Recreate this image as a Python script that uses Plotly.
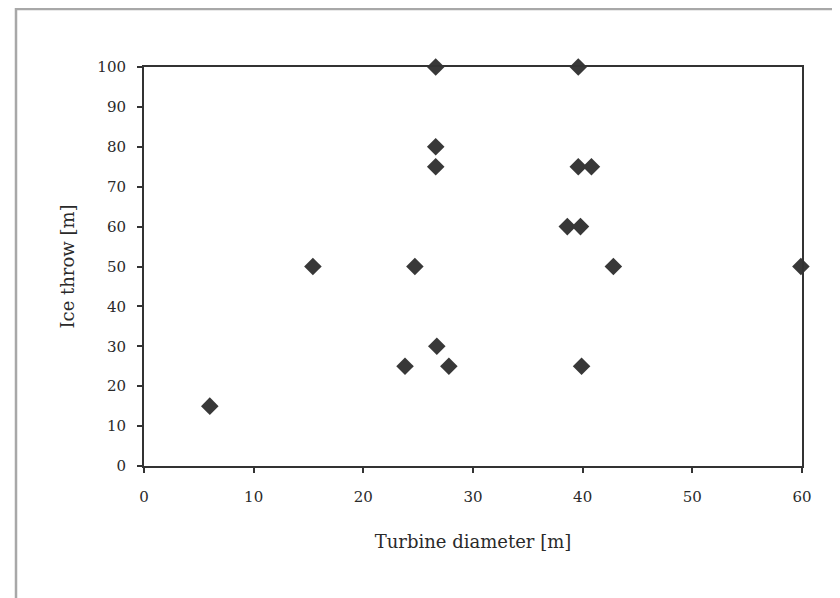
import plotly.graph_objects as go

diameter = [6, 15.4, 24.7, 23.8, 26.6, 39.6, 26.6, 26.6, 39.6, 40.8, 38.6, 39.8, 42.8, 59.9, 26.7, 27.8, 39.9]
ice_throw = [15, 50, 50, 25, 100, 100, 80, 75, 75, 75, 60, 60, 50, 50, 30, 25, 25]

x_ticks = [0, 10, 20, 30, 40, 50, 60]
y_ticks = [0, 10, 20, 30, 40, 50, 60, 70, 80, 90, 100]

OFF = 8  # page body margin
W, H = 840, 598
pw, ph = 658, 399
L, T = 144 - OFF, 67 - OFF
R, B = W - L - pw, H - T - ph

fig = go.Figure()
fig.add_trace(go.Scatter(
    x=diameter, y=ice_throw, mode="markers",
    marker=dict(symbol="diamond", size=13.5, color="#383838", line=dict(width=0)),
    cliponaxis=False, showlegend=False,
))

font = dict(family="DejaVu Serif, serif", size=15, color="#2a2a2a")
axis_common = dict(
    showgrid=False, zeroline=False, showline=True, linecolor="#333333", linewidth=2,
    mirror=True, ticks="outside", ticklen=5, tickwidth=1.5, tickcolor="#333333",
    tickfont=font,
)
overlay_common = dict(
    showgrid=False, zeroline=False, showline=False, showticklabels=False,
    ticks="inside", ticklen=4, tickwidth=1.5, tickcolor="#333333",
)

fig.update_layout(
    width=W, height=H,
    margin=dict(l=L, r=R, t=T, b=B, pad=0),
    paper_bgcolor="white", plot_bgcolor="white",
    font=font,
    xaxis=dict(range=[0, 60], tickvals=x_ticks, ticklabelstandoff=11,
               title=dict(text="Turbine diameter [m]", font=dict(size=18), standoff=30),
               **axis_common),
    yaxis=dict(range=[0, 100], tickvals=y_ticks, ticklabelstandoff=8,
               title=dict(text="Ice throw [m]", font=dict(size=18), standoff=18),
               **axis_common),
    xaxis2=dict(range=[0, 60], tickvals=x_ticks, overlaying="x", anchor="y", side="bottom",
                **overlay_common),
    yaxis2=dict(range=[0, 100], tickvals=y_ticks, overlaying="y", anchor="x", side="left",
                **overlay_common),
)

# outer gray border (left and top edges visible)
x_left = (16 - OFF - L) / pw
y_top = 1 + (T - 1) / ph
y_bot = 1 - (H + 5 - T) / ph
x_right = (W + 5 - L) / pw
fig.add_shape(type="path", xref="paper", yref="paper",
              path=f"M {x_left} {y_bot} L {x_left} {y_top} L {x_right} {y_top}",
              line=dict(color="#a8a8a8", width=2.5), layer="below")

fig.write_html("out.html")
